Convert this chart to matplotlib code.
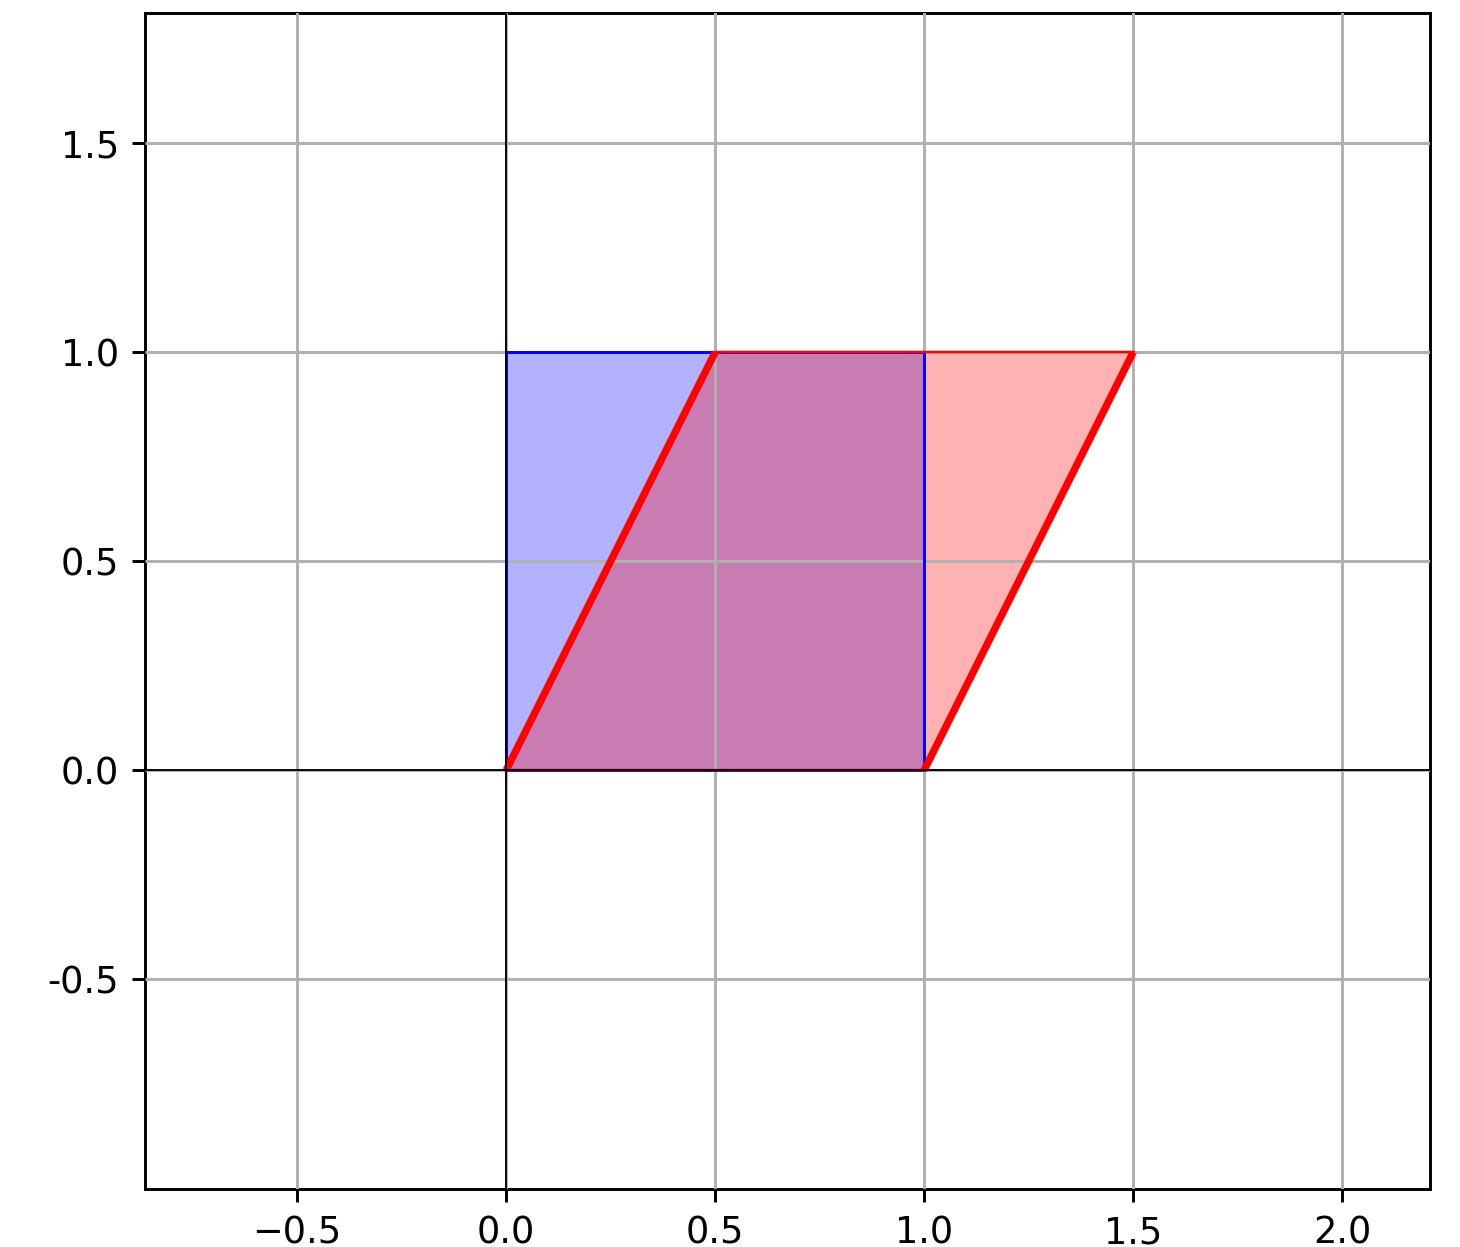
import matplotlib
matplotlib.use('Agg')
import matplotlib.pyplot as plt
from matplotlib.patches import Polygon

# 单位正方形和剪切后的平行四边形
square_x = [0, 1, 1, 0]
square_y = [0, 0, 1, 1]
shear_x = [0, 1, 1.5, 0.5]
shear_y = [0, 0, 1, 1]

x_ticks = [-0.5, 0.0, 0.5, 1.0, 1.5, 2.0]
y_ticks = [-0.5, 0.0, 0.5, 1.0, 1.5]
y_tick_labels = ['-0.5', '0.0', '0.5', '1.0', '1.5']

s = 2.65  # 放大比例

fig = plt.figure(figsize=(14.6, 12.47), dpi=100)
ax = fig.add_axes([0.0993, 0.0465, 0.8802, 0.9431])

# 蓝色正方形
ax.add_patch(Polygon(list(zip(square_x, square_y)), closed=True,
                     facecolor='blue', alpha=0.3, edgecolor='none'))
ax.add_patch(Polygon(list(zip(square_x, square_y)), closed=True,
                     fill=False, edgecolor='blue', linewidth=0.8 * s, zorder=3))

# 红色平行四边形
ax.add_patch(Polygon(list(zip(shear_x, shear_y)), closed=True,
                     facecolor='red', alpha=0.3, edgecolor='none'))
ax.add_patch(Polygon(list(zip(shear_x, shear_y)), closed=True,
                     fill=False, edgecolor='red', linewidth=0.7 * s, zorder=3))

# 剪切后的斜边
ax.plot([shear_x[0], shear_x[3]], [shear_y[0], shear_y[3]], color='red', linewidth=2.0 * s,
        solid_capstyle='butt', zorder=3)
ax.plot([shear_x[1], shear_x[2]], [shear_y[1], shear_y[2]], color='red', linewidth=2.0 * s,
        solid_capstyle='butt', zorder=3)

# 坐标轴
ax.axhline(0, color='black', linewidth=0.5 * s, zorder=4)
ax.axvline(0, color='black', linewidth=0.5 * s, zorder=4)

ax.set_xlim(-0.864, 2.210)
ax.set_ylim(-1.002, 1.811)
ax.set_xticks(x_ticks)
ax.set_yticks(y_ticks)
ax.set_yticklabels(y_tick_labels)
ax.grid(True, color='#b0b0b0', linewidth=0.8 * s)
ax.set_axisbelow(False)

ax.tick_params(labelsize=10 * s, length=3.5 * s, width=0.8 * s, pad=3.5 * s)
for sp in ax.spines.values():
    sp.set_linewidth(0.8 * s)

plt.savefig('out.png', dpi=100)
